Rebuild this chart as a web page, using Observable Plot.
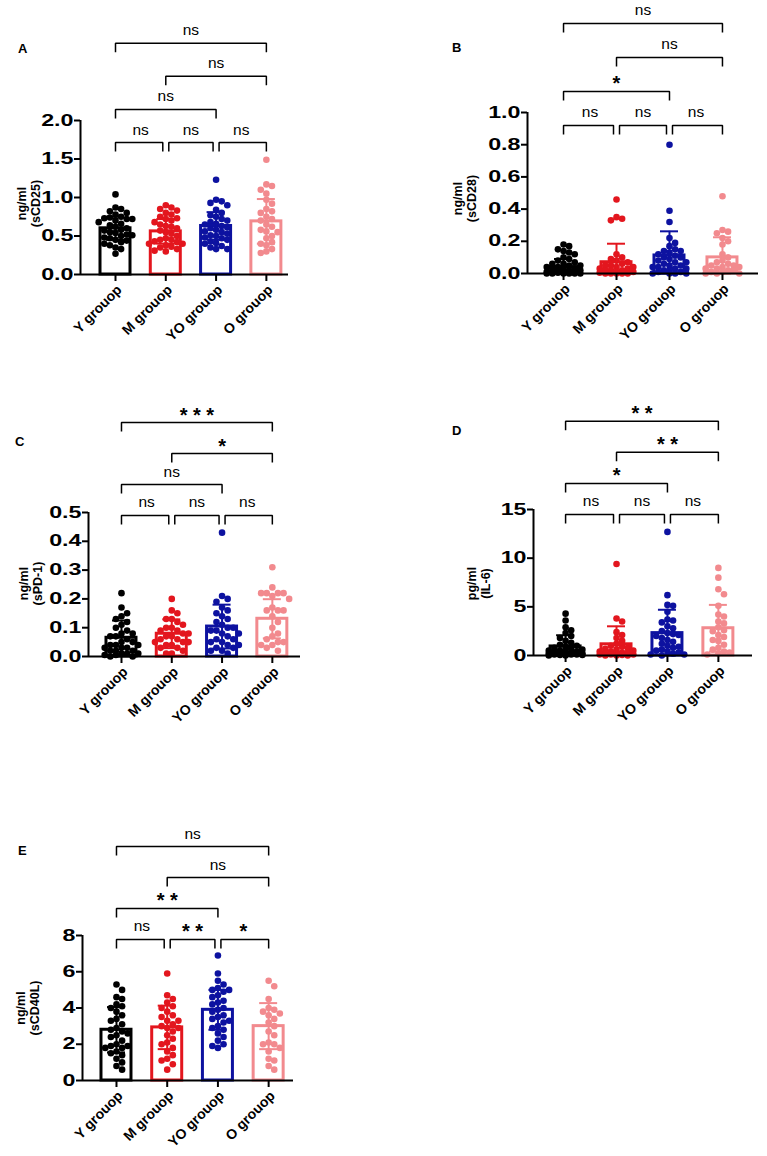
<!DOCTYPE html>
<html>
<head>
<meta charset="utf-8">
<script src="https://cdn.jsdelivr.net/npm/d3@7"></script>
<script src="https://cdn.jsdelivr.net/npm/@observablehq/plot@0.6"></script>
<style>
  html, body { margin: 0; padding: 0; background: #fff; }
  #fig { position: relative; width: 767px; height: 1156px; background: #fff; overflow: hidden; }
  .panel { position: absolute; }
  .letter { position: absolute; font: bold 13px "Liberation Sans", Arial, sans-serif; line-height: 13px; color: #000; }
</style>
</head>
<body>
<div id="fig"></div>
<script>
// Groups and their colours
const groups = ["Y grouop", "M grouop", "YO grouop", "O grouop"];
const groupColors = ["#000000", "#e3161e", "#0d12a0", "#f28a8e"];

// Pairwise comparisons drawn as brackets, and the row each bracket sits on
const comparisons = [[0, 1], [1, 2], [2, 3], [0, 2], [1, 3], [0, 3]];
const comparisonLevels = [0, 0, 0, 1, 2, 3];

// A: sCD25 (ng/ml)
const cd25Mean = [0.60, 0.56, 0.63, 0.69];
const cd25Sd = [0.15, 0.16, 0.18, 0.29];
const cd25Y = [1.04, 0.87, 0.85, 0.82, 0.80, 0.78, 0.75, 0.74, 0.73, 0.72, 0.72, 0.70, 0.68, 0.66, 0.64, 0.62, 0.60, 0.58, 0.57, 0.55, 0.54, 0.52, 0.51, 0.50, 0.48, 0.47, 0.45, 0.44, 0.42, 0.40, 0.38, 0.35, 0.33, 0.27];
const cd25M = [0.90, 0.87, 0.85, 0.83, 0.80, 0.78, 0.75, 0.73, 0.72, 0.70, 0.68, 0.65, 0.63, 0.62, 0.60, 0.57, 0.55, 0.53, 0.50, 0.47, 0.45, 0.45, 0.43, 0.42, 0.40, 0.40, 0.38, 0.36, 0.35, 0.33, 0.31, 0.30];
const cd25YO = [1.23, 0.97, 0.95, 0.93, 0.90, 0.84, 0.80, 0.77, 0.75, 0.72, 0.70, 0.68, 0.66, 0.65, 0.63, 0.61, 0.60, 0.58, 0.56, 0.55, 0.53, 0.51, 0.50, 0.48, 0.47, 0.45, 0.43, 0.41, 0.40, 0.37, 0.35, 0.33, 0.33];
const cd25O = [1.49, 1.17, 1.15, 1.10, 1.05, 0.97, 0.92, 0.85, 0.82, 0.80, 0.75, 0.72, 0.70, 0.65, 0.62, 0.58, 0.56, 0.55, 0.50, 0.47, 0.42, 0.40, 0.38, 0.33, 0.30, 0.28];
const cd25Sig = ["ns", "ns", "ns", "ns", "ns", "ns"];
const cd25Ticks = [0, 0.5, 1.0, 1.5, 2.0];

// B: sCD28 (ng/ml)
const cd28Mean = [0.04, 0.07, 0.112, 0.10];
const cd28Sd = [0.05, 0.115, 0.15, 0.125];
const cd28Y = [0.18, 0.17, 0.15, 0.14, 0.13, 0.12, 0.10, 0.09, 0.08, 0.07, 0.06, 0.06, 0.05, 0.05, 0.04, 0.04, 0.03, 0.03, 0.03, 0.02, 0.02, 0.02, 0.01, 0.01, 0.01, 0.01, 0.005, 0.005, 0.0, 0.0, 0.0, 0.0, 0.0, 0.0];
const cd28M = [0.46, 0.35, 0.34, 0.33, 0.12, 0.10, 0.09, 0.08, 0.07, 0.06, 0.05, 0.05, 0.04, 0.04, 0.03, 0.03, 0.02, 0.02, 0.02, 0.01, 0.01, 0.01, 0.005, 0.0, 0.0, 0.0, 0.0, 0.0];
const cd28YO = [0.80, 0.39, 0.32, 0.22, 0.19, 0.17, 0.15, 0.14, 0.14, 0.13, 0.12, 0.11, 0.10, 0.10, 0.09, 0.08, 0.07, 0.07, 0.06, 0.05, 0.05, 0.04, 0.04, 0.03, 0.03, 0.02, 0.02, 0.01, 0.01, 0.0, 0.0, 0.0, 0.0];
const cd28O = [0.48, 0.27, 0.26, 0.25, 0.22, 0.20, 0.18, 0.12, 0.10, 0.08, 0.07, 0.06, 0.05, 0.05, 0.04, 0.04, 0.03, 0.03, 0.02, 0.02, 0.01, 0.01, 0.0, 0.0, 0.0];
const cd28Sig = ["ns", "ns", "ns", "*", "ns", "ns"];
const cd28Ticks = [0, 0.2, 0.4, 0.6, 0.8, 1.0];

// C: sPD-1 (ng/ml)
const pd1Mean = [0.065, 0.079, 0.104, 0.131];
const pd1Sd = [0.06, 0.05, 0.076, 0.068];
const pd1Y = [0.22, 0.17, 0.15, 0.14, 0.13, 0.12, 0.11, 0.10, 0.09, 0.08, 0.08, 0.07, 0.07, 0.06, 0.05, 0.05, 0.04, 0.04, 0.04, 0.03, 0.03, 0.03, 0.02, 0.02, 0.02, 0.01, 0.01, 0.01, 0.005, 0.005, 0.0, 0.0];
const pd1M = [0.20, 0.16, 0.15, 0.13, 0.13, 0.12, 0.11, 0.10, 0.10, 0.09, 0.09, 0.08, 0.08, 0.07, 0.07, 0.06, 0.06, 0.05, 0.05, 0.05, 0.04, 0.04, 0.03, 0.03, 0.02, 0.01, 0.01];
const pd1YO = [0.43, 0.21, 0.20, 0.19, 0.17, 0.16, 0.15, 0.14, 0.13, 0.12, 0.11, 0.10, 0.10, 0.09, 0.09, 0.08, 0.08, 0.07, 0.06, 0.06, 0.05, 0.05, 0.04, 0.04, 0.03, 0.03, 0.02, 0.02, 0.01];
const pd1O = [0.31, 0.24, 0.22, 0.22, 0.22, 0.22, 0.21, 0.20, 0.17, 0.16, 0.16, 0.16, 0.14, 0.12, 0.10, 0.08, 0.07, 0.06, 0.05, 0.05, 0.04, 0.04, 0.03, 0.02];
const pd1Sig = ["ns", "ns", "ns", "ns", "*", "***"];
const pd1Ticks = [0, 0.1, 0.2, 0.3, 0.4, 0.5];

// D: IL-6 (pg/ml)
const il6Mean = [0.93, 1.15, 2.3, 2.8];
const il6Sd = [1.15, 1.85, 2.4, 2.4];
const il6Y = [4.3, 3.6, 2.9, 2.6, 2.3, 2.0, 1.8, 1.5, 1.3, 1.1, 1.0, 0.9, 0.8, 0.7, 0.6, 0.5, 0.5, 0.4, 0.4, 0.3, 0.3, 0.2, 0.2, 0.2, 0.1, 0.1, 0.1, 0.1, 0.05, 0.05, 0.0, 0.0];
const il6M = [9.4, 3.8, 3.5, 2.4, 2.1, 1.8, 1.5, 1.2, 1.0, 0.9, 0.8, 0.7, 0.6, 0.5, 0.4, 0.4, 0.3, 0.3, 0.2, 0.2, 0.1, 0.1, 0.1, 0.05, 0.0, 0.0, 0.0];
const il6YO = [12.7, 6.2, 5.2, 5.1, 4.5, 3.7, 3.6, 3.4, 3.0, 2.8, 2.5, 2.3, 2.2, 2.1, 2.0, 1.8, 1.6, 1.4, 1.2, 1.0, 0.9, 0.8, 0.6, 0.5, 0.4, 0.3, 0.2, 0.1, 0.1, 0.0];
const il6O = [9.0, 8.0, 6.8, 6.3, 5.1, 4.2, 4.0, 3.5, 3.3, 2.9, 2.6, 2.5, 2.1, 1.9, 1.6, 1.5, 1.1, 0.8, 0.6, 0.4, 0.3, 0.2, 0.1];
const il6Sig = ["ns", "ns", "ns", "*", "**", "**"];
const il6Ticks = [0, 5, 10, 15];

// E: sCD40L (ng/ml)
const cd40Mean = [2.8, 2.93, 3.9, 3.0];
const cd40Sd = [1.25, 1.2, 1.1, 1.27];
const cd40Y = [5.3, 5.0, 4.6, 4.5, 4.2, 4.1, 4.0, 3.8, 3.6, 3.4, 3.3, 3.1, 2.9, 2.8, 2.7, 2.6, 2.5, 2.4, 2.2, 2.0, 1.9, 1.9, 1.8, 1.8, 1.6, 1.5, 1.4, 1.2, 1.0, 0.8, 0.6];
const cd40M = [5.9, 4.7, 4.5, 4.3, 4.1, 4.0, 3.8, 3.6, 3.5, 3.3, 3.3, 3.1, 3.0, 2.9, 2.9, 2.7, 2.5, 2.3, 2.1, 2.0, 1.8, 1.6, 1.4, 1.2, 1.1, 0.9, 0.6];
const cd40YO = [6.9, 5.9, 5.5, 5.3, 5.1, 5.0, 5.0, 4.9, 4.7, 4.6, 4.4, 4.3, 4.2, 4.0, 3.9, 3.8, 3.6, 3.5, 3.4, 3.3, 3.2, 3.0, 2.9, 2.8, 2.6, 2.4, 2.2, 2.0, 1.9, 1.8];
const cd40O = [5.5, 5.2, 4.5, 4.0, 3.9, 3.8, 3.7, 3.6, 3.4, 3.2, 3.0, 2.7, 2.5, 2.1, 2.0, 2.0, 1.8, 1.6, 1.2, 1.1, 0.8, 0.6];
const cd40Sig = ["ns", "**", "*", "**", "ns", "ns"];
const cd40Ticks = [0, 2, 4, 6, 8];

const fmt1 = d3.format(".1f");
const fmt0 = d3.format("d");

// Panel layout: placement on the page, margins, scale extents, bracket rows
const panels = [
  {letter: "A", letterPos: [18, 42], label: "ng/ml\n(sCD25)", mean: cd25Mean, sd: cd25Sd,
   points: [cd25Y, cd25M, cd25YO, cd25O], sig: cd25Sig, ticks: cd25Ticks, tickFormat: fmt1,
   box: {left: 0, top: 0, width: 383, height: 340}, m: {left: 80, right: 95, top: 120, bottom: 66},
   xDomain: [-0.696, 3.44], yMax: 2, bracketBase: 1.714, bracketStep: 0.43, labelDx: -52, labelDy: 6},
  {letter: "B", letterPos: [452, 41], label: "ng/ml\n(sCD28)", mean: cd28Mean, sd: cd28Sd,
   points: [cd28Y, cd28M, cd28YO, cd28O], sig: cd28Sig, ticks: cd28Ticks, tickFormat: fmt1,
   box: {left: 383, top: 0, width: 384, height: 340}, m: {left: 144, right: 9, top: 112, bottom: 67},
   xDomain: [-0.68, 3.68], yMax: 1, bracketBase: 0.92, bracketStep: 0.211, labelDx: -62.5, labelDy: 5.5},
  {letter: "C", letterPos: [15, 435], label: "ng/ml\n(sPD-1)", mean: pd1Mean, sd: pd1Sd,
   points: [pd1Y, pd1M, pd1YO, pd1O], sig: pd1Sig, ticks: pd1Ticks, tickFormat: fmt1,
   box: {left: 0, top: 370, width: 383, height: 350}, m: {left: 88, right: 83, top: 142, bottom: 64},
   xDomain: [-0.656, 3.56], yMax: 0.5, bracketBase: 0.4896, bracketStep: 0.1076, labelDx: -58, labelDy: -1},
  {letter: "D", letterPos: [452, 424], label: "pg/ml\n(IL-6)", mean: il6Mean, sd: il6Sd,
   points: [il6Y, il6M, il6YO, il6O], sig: il6Sig, ticks: il6Ticks, tickFormat: fmt0,
   box: {left: 383, top: 370, width: 384, height: 350}, m: {left: 150, right: 15, top: 139, bottom: 65},
   xDomain: [-0.63, 3.67], yMax: 15, bracketBase: 14.49, bracketStep: 3.19, labelDx: -55, labelDy: 1},
  {letter: "E", letterPos: [18, 844], label: "ng/ml\n(sCD40L)", mean: cd40Mean, sd: cd40Sd,
   points: [cd40Y, cd40M, cd40YO, cd40O], sig: cd40Sig, ticks: cd40Ticks, tickFormat: fmt0,
   box: {left: 0, top: 740, width: 383, height: 416}, m: {left: 82, right: 90, top: 195, bottom: 76},
   xDomain: [-0.67, 3.49], yMax: 8, bracketBase: 7.78, bracketStep: 1.71, labelDx: -54.5, labelDy: 0}
];

// Spread coincident points sideways into columns (0, +1, -1, +2, ...)
function swarmColumns(values, pxPerUnit, gapPx) {
  const order = d3.range(values.length).sort((a, b) => values[b] - values[a]);
  const candidates = [0, 1, -1, 2, -2, 3, -3];
  const placed = [];
  const cols = new Array(values.length);
  for (const i of order) {
    const y = values[i] * pxPerUnit;
    let best = 0, bestGap = -1;
    for (const k of candidates) {
      const same = placed.filter(p => p.k === k);
      const gap = same.length ? d3.min(same, p => Math.abs(p.y - y)) : Infinity;
      if (gap >= gapPx) { best = k; break; }
      if (gap > bestGap) { bestGap = gap; best = k; }
    }
    placed.push({k: best, y});
    cols[i] = best;
  }
  return cols;
}

const fig = document.getElementById("fig");
const font = '"Liberation Sans", Arial, sans-serif';

for (const p of panels) {
  const {box, m, xDomain, yMax} = p;
  const plotW = box.width - m.left - m.right;
  const plotH = box.height - m.top - m.bottom;
  const stepPx = plotW / (xDomain[1] - xDomain[0]);
  const pxPerUnit = plotH / yMax;
  const ux = px => px / stepPx;
  const uy = px => px / pxPerUnit;
  const barHalf = ux(15), capHalf = ux(9), colW = ux(5.6), inset = ux(3), drop = uy(9);

  const summary = groups.map((g, i) => ({
    i, mean: p.mean[i],
    lo: Math.max(0, p.mean[i] - p.sd[i]),
    hi: p.mean[i] + p.sd[i]
  }));

  const dots = p.points.flatMap((vals, i) => {
    const cols = swarmColumns(vals, pxPerUnit, 5.8);
    return vals.map((v, j) => ({g: i, v, x: i + cols[j] * colW}));
  });

  const brackets = comparisons.map(([a, b], k) => {
    const level = comparisonLevels[k];
    return {
      a, b, level, label: p.sig[k],
      y: p.bracketBase + level * p.bracketStep,
      x1: a + (level === 0 && a > 0 ? inset : 0),
      x2: b - (level === 0 && b < 3 ? inset : 0)
    };
  });
  const bracketPath = brackets.flatMap((d, k) => [
    {k, x: d.x1, y: d.y - drop}, {k, x: d.x1, y: d.y},
    {k, x: d.x2, y: d.y}, {k, x: d.x2, y: d.y - drop}
  ]);

  const groupMarks = groups.flatMap((g, i) => {
    const s = summary.filter(d => d.i === i);
    const c = groupColors[i];
    return [
      Plot.rect(s, {x1: d => d.i - barHalf, x2: d => d.i + barHalf, y1: 0, y2: "mean", fill: "white"}),
      Plot.dot(dots.filter(d => d.g === i), {x: "x", y: "v", r: 3.3, fill: c, stroke: "none"}),
      Plot.rect(s, {x1: d => d.i - barHalf, x2: d => d.i + barHalf, y1: 0, y2: "mean", fill: "none", stroke: c, strokeWidth: 3}),
      Plot.ruleX(s, {x: "i", y1: "lo", y2: "hi", stroke: c, strokeWidth: 2}),
      Plot.ruleY(s, {y: "hi", x1: d => d.i - capHalf, x2: d => d.i + capHalf, stroke: c, strokeWidth: 2}),
      Plot.ruleY(s, {y: "lo", x1: d => d.i - capHalf, x2: d => d.i + capHalf, stroke: c, strokeWidth: 2})
    ];
  });

  const svg = Plot.plot({
    width: box.width,
    height: box.height,
    marginLeft: m.left, marginRight: m.right, marginTop: m.top, marginBottom: m.bottom,
    style: {fontFamily: font, background: "transparent", overflow: "visible"},
    x: {domain: xDomain},
    y: {domain: [0, yMax]},
    marks: [
      ...groupMarks,
      // axis lines
      Plot.ruleX([xDomain[0]], {y1: 0, y2: yMax, stroke: "black", strokeWidth: 2}),
      Plot.ruleY([0], {x1: xDomain[0], x2: xDomain[1], stroke: "black", strokeWidth: 2}),
      Plot.axisY(p.ticks, {tickSize: 6, tickPadding: 1, tickFormat: p.tickFormat, fontSize: 16,
        fontWeight: "bold", strokeWidth: 2, label: null, fill: "black"}),
      Plot.axisX([0, 1, 2, 3], {tickSize: 7, tickFormat: () => "", strokeWidth: 2, label: null}),
      // group names under the ticks, turned 45°
      Plot.text([0, 1, 2, 3], {x: d => d, frameAnchor: "bottom", text: i => groups[i], rotate: -45,
        textAnchor: "end", lineAnchor: "middle", dx: 4, dy: 13, fontSize: 14, fontWeight: "bold", fill: "black"}),
      // significance brackets
      Plot.line(bracketPath, {x: "x", y: "y", z: "k", stroke: "black", strokeWidth: 1.5,
        strokeLinejoin: "miter", strokeLinecap: "butt"}),
      Plot.text(brackets.filter(d => d.label === "ns"), {x: d => (d.a + d.b) / 2, y: "y", text: "label",
        dy: -8, lineAnchor: "bottom", fontSize: 15.5, fill: "black"}),
      Plot.text(brackets.filter(d => d.label !== "ns"), {x: d => (d.a + d.b) / 2, y: "y",
        text: d => d.label.split("").join(" "), dy: -1, lineAnchor: "bottom", fontSize: 20,
        fontWeight: "bold", fill: "black"}),
      // y-axis title
      Plot.text([p.label], {frameAnchor: "left", text: d => d, rotate: -90, dx: p.labelDx, dy: p.labelDy,
        fontSize: 12.5, fontWeight: "bold", lineHeight: 1.12, textAnchor: "middle", lineAnchor: "middle", fill: "black"})
    ]
  });

  const wrap = document.createElement("div");
  wrap.className = "panel";
  wrap.style.left = box.left + "px";
  wrap.style.top = box.top + "px";
  wrap.appendChild(svg);
  fig.appendChild(wrap);

  // the y tick numbers use a wide face: stretch them horizontally
  d3.select(svg).selectAll('g[aria-label="y-axis tick label"] text').each(function () {
    const len = this.getComputedTextLength();
    this.setAttribute("textLength", (len * 1.45).toFixed(1));
    this.setAttribute("lengthAdjust", "spacingAndGlyphs");
  });

  const letter = document.createElement("div");
  letter.className = "letter";
  letter.textContent = p.letter;
  letter.style.left = p.letterPos[0] + "px";
  letter.style.top = p.letterPos[1] + "px";
  fig.appendChild(letter);
}
</script>
</body>
</html>
